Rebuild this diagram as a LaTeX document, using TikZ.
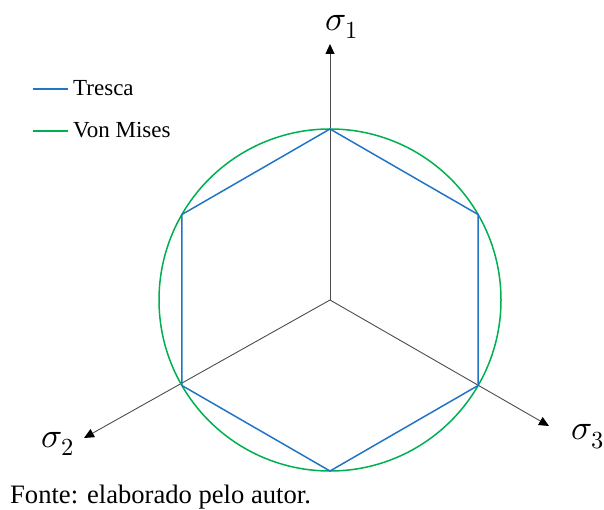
\documentclass[tikz,border=0pt]{standalone}
\usepackage{unicode-math}
\setmainfont{Liberation Serif}
\setmathfont{Latin Modern Math}
\usetikzlibrary{positioning,arrows.meta}
\definecolor{trescablue}{RGB}{33,117,196}
\definecolor{misesgreen}{RGB}{0,176,80}

\begin{document}
\begin{tikzpicture}[x=1pt, y=-1pt,
  axis/.style={draw=black!70, line width=0.9pt, -{Triangle[length=10pt, width=9pt, color=black]}},
  sigmalabel/.style={font=\fontsize{35}{38}\selectfont, inner sep=0pt},
  legendtext/.style={font=\fontsize{23}{27}\selectfont, anchor=base west, inner sep=0pt}]
\useasboundingbox (0,0) rectangle (604,510);

% principal stress axes
\coordinate (O) at (330,300);
\coordinate (s1tip) at (330,44);
\coordinate (s2tip) at (84,438);
\coordinate (s3tip) at (549,426);
\draw[axis] (O) -- (s1tip);
\draw[axis] (O) -- (s2tip);
\draw[axis] (O) -- (s3tip);
\node[sigmalabel] (sig1) at (342,27) {$\sigma_1$};
\node[sigmalabel] (sig2) at (58,444) {$\sigma_2$};
\node[sigmalabel] (sig3) at (588,437) {$\sigma_3$};

% yield surfaces
\draw[misesgreen, line width=1.5pt] (O) circle[radius=171];
\foreach \a [count=\i] in {-90,-30,30,90,150,210}
  \coordinate (h\i) at ([shift={(\a:171)}]O);
\draw[trescablue, line width=1.5pt] (h1) -- (h2) -- (h3) -- (h4) -- (h5) -- (h6) -- cycle;

% legend
\coordinate (tl1) at (33,89);
\coordinate (tl2) at (68,89);
\coordinate (vl1) at (33,131);
\coordinate (vl2) at (68,131);
\draw[trescablue, line width=1.5pt] (tl1) -- (tl2);
\draw[misesgreen, line width=1.5pt] (vl1) -- (vl2);
\node[legendtext] (tresca) at (73,96) {Tresca};
\node[legendtext] (vonmises) at (73,138) {Von Mises};

\node[anchor=base west, inner sep=0pt, font=\fontsize{26.6}{30}\selectfont] (fonte) at (10,503) {Fonte: elaborado pelo autor.};
\end{tikzpicture}
\end{document}
